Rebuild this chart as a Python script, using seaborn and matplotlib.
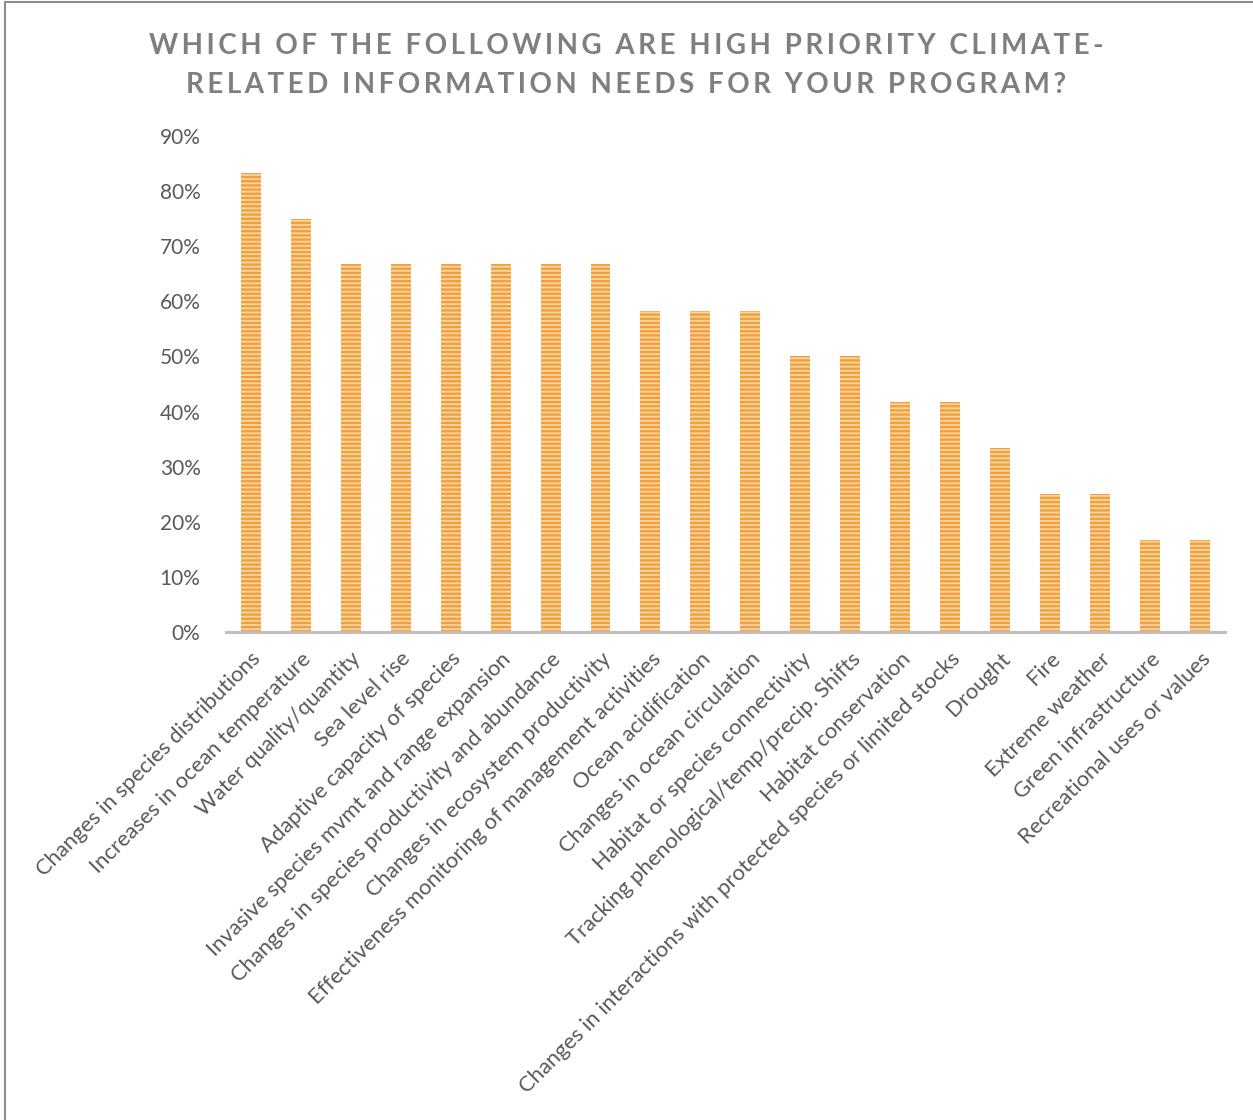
import matplotlib
matplotlib.use("Agg")
import matplotlib.pyplot as plt
import seaborn as sns
import pandas as pd
from matplotlib.patches import Rectangle

categories = [
    "Changes in species distributions",
    "Increases in ocean temperature",
    "Water quality/quantity",
    "Sea level rise",
    "Adaptive capacity of species",
    "Invasive species mvmt and range expansion",
    "Changes in species productivity and abundance",
    "Changes in ecosystem productivity",
    "Effectiveness monitoring of management activities",
    "Ocean acidification",
    "Changes in ocean circulation",
    "Habitat or species connectivity",
    "Tracking phenological/temp/precip. Shifts",
    "Habitat conservation",
    "Changes in interactions with protected species or limited stocks",
    "Drought",
    "Fire",
    "Extreme weather",
    "Green infrastructure",
    "Recreational uses or values",
]
values = [0.833, 0.75, 0.667, 0.667, 0.667, 0.667, 0.667, 0.667,
          0.583, 0.583, 0.583, 0.50, 0.50, 0.417, 0.417, 0.333,
          0.25, 0.25, 0.167, 0.167]
yticks = [0.0, 0.1, 0.2, 0.3, 0.4, 0.5, 0.6, 0.7, 0.8, 0.9]
ytick_labels = ["0%", "10%", "20%", "30%", "40%", "50%", "60%", "70%", "80%", "90%"]
title_lines = ["WHICH OF THE FOLLOWING ARE HIGH PRIORITY CLIMATE-",
               "RELATED INFORMATION NEEDS FOR YOUR PROGRAM?"]

df = pd.DataFrame({"category": categories, "value": values})

sns.set_theme(style="white")
plt.rcParams['font.family'] = ['Lato', 'DejaVu Sans']
plt.rcParams['hatch.linewidth'] = 1.7
plt.rcParams['hatch.color'] = '#F2A038'

fig = plt.figure(figsize=(12.53, 11.2), dpi=100)
ax = fig.add_axes([0.18, 0.4357, 0.798, 0.4429])

sns.barplot(data=df, x="category", y="value", ax=ax, color="#FAD3A6",
            width=0.4, saturation=1, linewidth=0)
for p in ax.patches:
    p.set_hatch('----')
    p.set_edgecolor('#F2A038')
    p.set_linewidth(0)

ax.set_ylim(0, 0.9)
ax.set_xlim(-0.5, len(categories) - 0.5)
ax.set_yticks(yticks)
ax.set_yticklabels(ytick_labels, fontsize=15, color="#595959")
ax.set_xticks(range(len(categories)))
ax.set_xticklabels(categories, rotation=45, ha='right', rotation_mode='anchor',
                   fontsize=15.8, color="#595959")
ax.tick_params(axis='x', length=0, pad=12)
ax.tick_params(axis='y', length=0, pad=18)
ax.set_xlabel("")
ax.set_ylabel("")
for s in ["top", "right", "left"]:
    ax.spines[s].set_visible(False)
ax.spines["bottom"].set_color("#BFBFBF")
ax.spines["bottom"].set_linewidth(2.2)
ax.grid(False)

sep = "\u2009"
for i, line in enumerate(title_lines):
    spaced = sep.join(list(line))
    fig.text(0.5, 0.959 - i * 0.035, spaced, ha='center', va='center',
             fontsize=20, fontweight='bold', color="#7F7F7F")

fig.patches.append(Rectangle((0.004, -0.01), 1.2, 1.008, transform=fig.transFigure,
                             fill=False, edgecolor="#8C8C8C", linewidth=1.5))

fig.savefig("out.png", dpi=100)
